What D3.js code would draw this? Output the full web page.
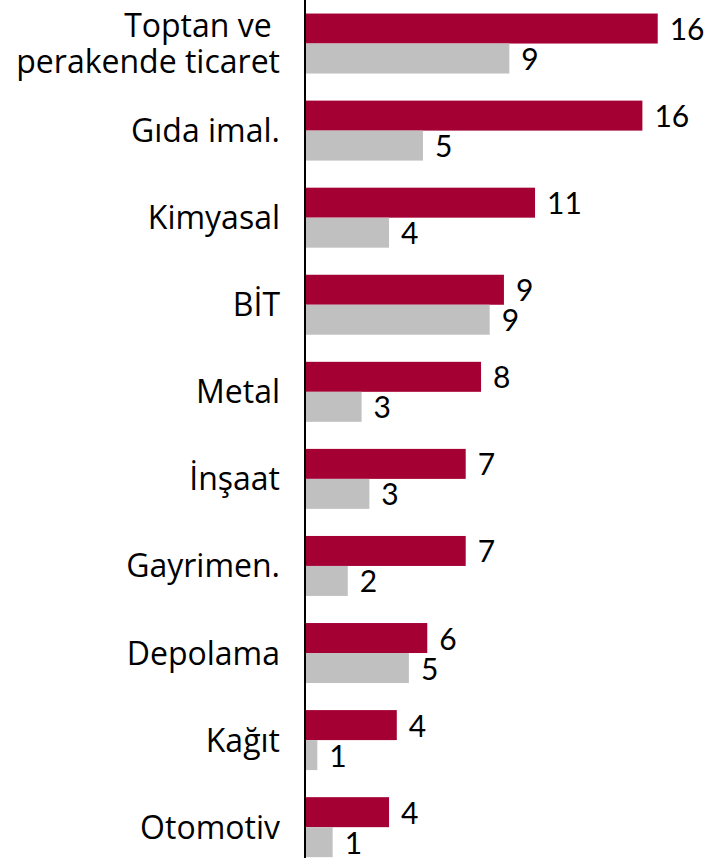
<!DOCTYPE html>
<html>
<head>
<meta charset="utf-8">
<script src="https://cdn.jsdelivr.net/npm/d3@7"></script>
<style>
  html, body { margin: 0; padding: 0; background: #fff; overflow: hidden; }
  svg { display: block; }
</style>
</head>
<body>
<script>
// Data
const categories = [
  ["Toptan ve ", "perakende ticaret"],
  ["Gıda imal."],
  ["Kimyasal"],
  ["BİT"],
  ["Metal"],
  ["İnşaat"],
  ["Gayrimen."],
  ["Depolama"],
  ["Kağıt"],
  ["Otomotiv"]
];
const seriesRed  = [16.33, 15.62, 10.65, 9.21, 8.15, 7.44, 7.44, 5.66, 4.25, 3.89];
const seriesGray = [9.46, 5.46, 3.89, 8.55, 2.62, 2.98, 1.98, 4.81, 0.57, 1.28];

const W = 707, H = 858;
const x0 = 305;
const svg = d3.select("body").append("svg").attr("width", W).attr("height", H);

const x = d3.scaleLinear().domain([0, 20]).range([x0, x0 + 432]);
const y = d3.scaleBand().domain(d3.range(categories.length))
  .range([0, 870.7]).paddingInner(0.311).paddingOuter(0.1555);
const sub = d3.scaleBand().domain([0, 1]).range([0, y.bandwidth()]);

const fmt = d3.format(".0f");
const valueFont = "Lato, 'Open Sans', sans-serif";
const labelFont = "'Open Sans', Lato, sans-serif";

const series = [
  { values: seriesRed, color: "#A50034" },
  { values: seriesGray, color: "#C0C0C0" }
];

series.forEach((s, si) => {
  const g = svg.append("g");
  g.selectAll("rect").data(s.values).join("rect")
    .attr("x", x(0))
    .attr("y", (d, i) => y(i) + sub(si))
    .attr("width", d => x(d) - x(0))
    .attr("height", sub.bandwidth())
    .attr("fill", s.color);
  g.selectAll("text").data(s.values).join("text")
    .attr("x", d => x(d) + 12)
    .attr("y", (d, i) => y(i) + sub(si) + sub.bandwidth() / 2 + 11.5)
    .attr("font-family", valueFont)
    .attr("font-size", 30)
    .attr("fill", "#000")
    .text(d => fmt(d));
});

// Category labels
const lineH = 36.7;
const labels = svg.append("g");
categories.forEach((lines, i) => {
  const cy = y(i) + y.bandwidth() / 2;
  const n = lines.length;
  lines.forEach((ln, k) => {
    labels.append("text")
      .attr("text-anchor", "end")
      .attr("font-family", labelFont)
      .attr("font-size", 32)
      .attr("fill", "#000")
      .attr("xml:space", "preserve")
      .style("white-space", "pre")
      .attr("x", 280)
      .attr("y", cy + 11.5 + (k - (n - 1) / 2) * lineH)
      .text(ln);
  });
});

// Axis line
svg.append("line")
  .attr("x1", x0).attr("x2", x0)
  .attr("y1", 0).attr("y2", H)
  .attr("stroke", "#000").attr("stroke-width", 2);
</script>
</body>
</html>
